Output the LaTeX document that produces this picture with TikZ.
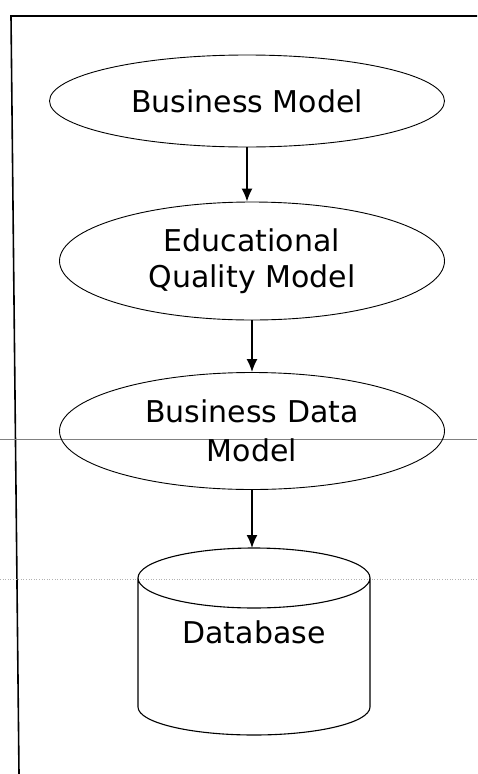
\documentclass[tikz,border=0pt]{standalone}
\usepackage{fontspec}
\setmainfont{DejaVu Sans}
\usetikzlibrary{shapes.geometric,arrows.meta}
\begin{document}
\begin{tikzpicture}[x=1pt,y=-1pt,
  modelbox/.style={ellipse,draw,line width=0.9pt,inner sep=0pt,align=center,
    font=\fontsize{30}{36}\selectfont},
  flow/.style={line width=1.5pt,-{Latex[length=13pt,width=11pt]}},
  frameline/.style={line width=1.6pt},
  guideline/.style={gray,line width=0.6pt},
  guidedots/.style={gray!60,line width=0.6pt,dotted}]
\useasboundingbox (0,0) rectangle (477,774);
% frame
\draw[frameline] (477,16) -- (11,16) -- (19,774);
% guide lines
\draw[guideline] (0,439) -- (477,439);
\draw[guidedots] (0,579) -- (477,579);
% nodes
\node[modelbox,minimum width=395pt,minimum height=92pt] (bm) at (247,101) {Business Model};
\node[modelbox,minimum width=385pt,minimum height=118pt] (eqm) at (252,261) {Educational\\Quality Model};
\node[modelbox,minimum width=385pt,minimum height=117pt,font=\fontsize{30}{39}\selectfont] (bdm) at (252,431) {Business Data\\Model};
% database cylinder
\coordinate (dbtop) at (254,548);
\draw[line width=1.1pt,fill=white] (138,578) arc[start angle=180,end angle=0,x radius=116,y radius=30]
  -- (370,707) arc[start angle=0,end angle=180,x radius=116,y radius=28] -- cycle;
\draw[line width=1.1pt] (138,578) arc[start angle=180,end angle=360,x radius=116,y radius=30];
\node[font=\fontsize{30}{36}\selectfont,inner sep=0pt] (db) at (254,632) {Database};
% arrows
\draw[flow] (bm.south) -- (bm.south |- eqm.north);
\draw[flow] (eqm.south) -- (eqm.south |- bdm.north);
\draw[flow] (bdm.south) -- (bdm.south |- dbtop);
\end{tikzpicture}
\end{document}
